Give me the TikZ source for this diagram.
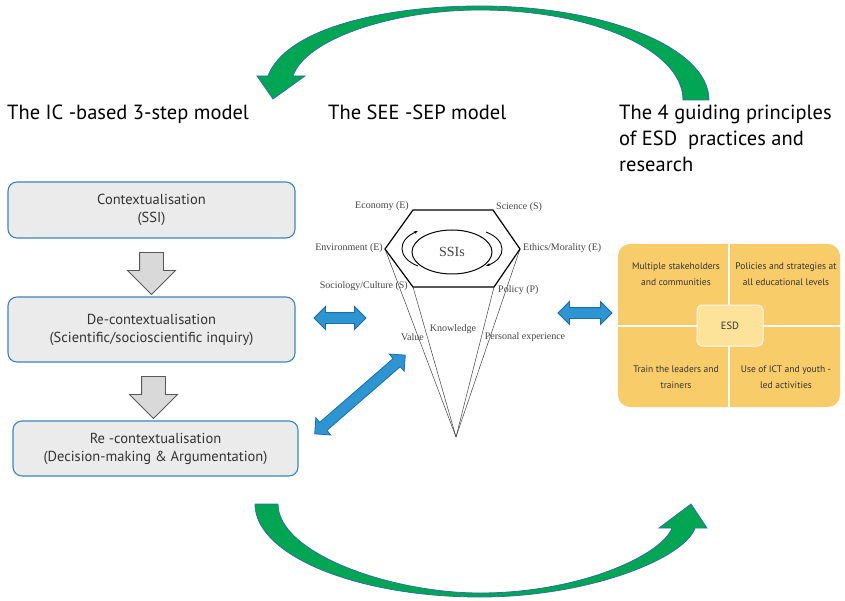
\documentclass[tikz,border=0pt]{standalone}
\usepackage{fontspec}
\setmainfont{PT Sans}
\newfontfamily\timesfont{Liberation Serif}
\usetikzlibrary{arrows.meta,shapes.arrows,calc}

\definecolor{boxblue}{HTML}{3C86C0}
\definecolor{boxgray}{HTML}{EBEBEB}
\definecolor{arrowgray}{HTML}{D9D9D9}
\definecolor{linkblue}{HTML}{2E95D3}
\definecolor{linkedge}{HTML}{1F6DA6}
\definecolor{loopgreen}{HTML}{00A651}
\definecolor{loopedge}{HTML}{2F6FB0}
\definecolor{tilegold}{HTML}{F9CC6A}
\definecolor{tilelight}{HTML}{FDE29A}
\definecolor{textgray}{HTML}{333333}
\definecolor{hexgray}{HTML}{444444}

\begin{document}
\begin{tikzpicture}[
    x = 1pt,
    y = -1pt,
    stage/.style = {
      draw = boxblue,
      line width = 1.1pt,
      fill = boxgray,
      rounded corners = 9pt,
      minimum width = 287pt,
      inner sep = 0pt,
      align = center,
      text = textgray,
      font = \fontsize{14.5}{18}\selectfont
    },
    downarrow/.style = {
      single arrow,
      draw = black!65,
      fill = arrowgray,
      line width = 0.8pt,
      rotate = -90,
      minimum height = 42pt,
      single arrow head extend = 12pt,
      inner xsep = 0pt,
      inner ysep = 11.5pt
    },
    link/.style = {
      double arrow,
      draw = linkedge,
      fill = linkblue,
      line width = 0.8pt,
      double arrow head extend = 6pt,
      inner xsep = 0pt,
      inner ysep = 5pt
    },
    facet/.style = {
      text = hexgray,
      inner sep = 0pt,
      font = \timesfont\fontsize{10}{12}\selectfont
    },
    tile/.style = {
      align = center,
      text = textgray,
      inner sep = 0pt,
      font = \fontsize{9.5}{16}\selectfont
    },
    heading/.style = {
      align = left,
      inner sep = 0pt,
      font = \fontsize{20.5}{26}\selectfont
    },
    loop/.style = {
      fill = loopgreen,
      draw = loopedge,
      line width = 0.8pt
    }
  ]
  \useasboundingbox (0,0) rectangle (845,601);

  % headings
  \node[heading, anchor = north west] (h1) at (7,105) {The IC -based 3-step model};
  \node[heading, anchor = north west] (h2) at (328,105) {The SEE -SEP model};
  \node[heading, anchor = north west] (h3) at (619,105)
    {The 4 guiding principles\\of ESD\ \ practices and\\research};

  % the 3-step model
  \node[stage, minimum height = 56pt] (ctx) at (151.5,210) {Contextualisation\\(SSI)};
  \node[stage, minimum height = 65pt] (dectx) at (151.5,329.5)
    {De-contextualisation\\(Scientific/socioscientific inquiry)};
  \node[stage, minimum width = 285pt, minimum height = 55pt] (rectx) at (155.5,448.5)
    {Re -contextualisation\\(Decision-making \& Argumentation)};

  \node[downarrow] (step1) at ($(ctx.south)!0.5!(dectx.north)$) {};
  \node[downarrow] (step2) at ($(dectx.south)!0.5!(rectx.north)$) {};

  % the SEE-SEP model
  \coordinate (hA) at (413,210);
  \coordinate (hB) at (493,210);
  \coordinate (hC) at (520,249);
  \coordinate (hD) at (494,287);
  \coordinate (hE) at (413,287);
  \coordinate (hF) at (385,249);
  \coordinate (apex) at (456,437);

  \draw[black!75, line width = 0.5pt] (hF) -- (apex);
  \draw[black!75, line width = 0.5pt] (hE) -- (apex);
  \draw[black!75, line width = 0.5pt] (hD) -- (apex);
  \draw[black!75, line width = 0.5pt] (hC) -- (apex);
  \draw[line width = 1.2pt] (hA) -- (hB) -- (hC) -- (hD) -- (hE) -- (hF) -- cycle;

  \draw[line width = 1pt] (452,252) ellipse [x radius = 40, y radius = 22];
  \draw[line width = 0.9pt, -{Stealth[length = 4pt]}]
    (418,266) .. controls (397,258) and (397,240) .. (418,231);
  \draw[line width = 0.9pt, -{Stealth[length = 4pt]}]
    (486,232) .. controls (507,240) and (507,258) .. (486,266);
  \node[font = \timesfont\fontsize{14}{14}\selectfont, text = hexgray] (ssi) at (452,252) {SSIs};

  \node[facet, anchor = east] (eco) at (409,206) {Economy (E)};
  \node[facet, anchor = west] (sci) at (496,207) {Science (S)};
  \node[facet, anchor = east] (env) at (383,248) {Environment (E)};
  \node[facet, anchor = west] (eth) at (523,248) {Ethics/Morality (E)};
  \node[facet, anchor = east] (soc) at (408,286) {Sociology/Culture (S)};
  \node[facet, anchor = west] (pol) at (498,290) {Policy (P)};
  \node[facet] (val) at (412.5,337) {Value};
  \node[facet] (kno) at (453,329) {Knowledge};
  \node[facet] (per) at (525,337) {Personal experience};

  % links between the models
  \node[link, minimum height = 52pt] (lk1) at (340,318) {};
  \node[link, minimum height = 54pt] (lk2) at (585,313) {};
  \node[link, minimum height = 120pt, rotate = 41] (lk3) at (360,394.5) {};

  % the 4 guiding principles
  \fill[tilegold, rounded corners = 12pt] (618,244) rectangle (840,407);
  \draw[white, line width = 1.2pt] (729,244) -- (729,407);
  \draw[white, line width = 1.2pt] (618,326) -- (840,326);
  \node[draw = white!80!tilelight, line width = 1pt, fill = tilelight, rounded corners = 5pt,
    minimum width = 66pt, minimum height = 41pt, text = textgray,
    font = \fontsize{10.5}{12}\selectfont] (esd) at (730,325.5) {ESD};

  \node[tile] (t1) at (676,274) {Multiple stakeholders\\and communities};
  \node[tile] (t2) at (786,274) {Policies and strategies at\\all educational levels};
  \node[tile] (t3) at (676,377) {Train the leaders and\\trainers};
  \node[tile] (t4) at (786,377) {Use of ICT and youth -\\led activities};

  % the loop between the models
  \draw[loop] (709,100) .. controls (709,48) and (606,6) .. (480,6)
    .. controls (380,6) and (285,30) .. (268,76)
    -- (257,76) -- (273,99) -- (305,76) -- (293,76)
    .. controls (305,40) and (390,10) .. (480,10)
    .. controls (592,10) and (683,50) .. (683,100) -- cycle;
  \draw[loop] (255,504) .. controls (255,555) and (356,597) .. (480,597)
    .. controls (590,597) and (685,558) .. (695,528)
    -- (707,528) -- (691,504) -- (659,528) -- (672,528)
    .. controls (662,555) and (580,593) .. (480,593)
    .. controls (390,593) and (278,553) .. (278,504) -- cycle;
\end{tikzpicture}
\end{document}
